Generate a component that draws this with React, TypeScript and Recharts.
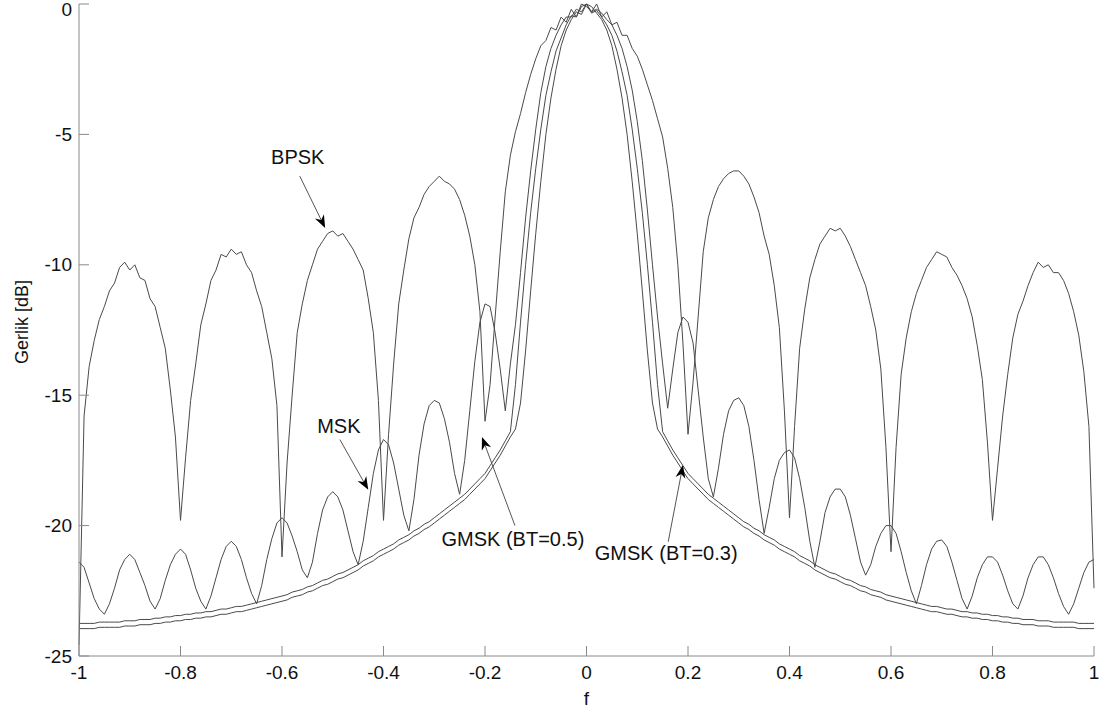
import React from 'react';
import { LineChart, Line, XAxis, YAxis, ReferenceLine, ReferenceDot } from 'recharts';

// frequency grid f = -1.00 ... 1.00 (step 0.01)
const freq: number[] = Array.from({ length: 201 }, (_, i) => (i - 100) / 100);

const bpsk: number[] = [
  -24.6, -15.8, -13.9, -12.9, -12.1, -11.6, -11.0, -10.7, -10.1, -9.9,
  -10.2, -10.0, -10.5, -10.6, -11.3, -11.6, -12.4, -13.2, -14.8, -16.6,
  -19.8, -17.4, -15.2, -13.8, -12.3, -11.5, -10.6, -10.2, -9.6, -9.7,
  -9.4, -9.6, -9.5, -10.0, -10.3, -11.0, -11.6, -12.6, -13.6, -15.4,
  -21.2, -17.6, -15.0, -12.6, -11.5, -10.6, -10.0, -9.4, -9.1, -8.8,
  -8.7, -8.9, -8.8, -9.1, -9.4, -9.8, -10.2, -11.3, -12.6, -15.2,
  -19.8, -16.5, -13.8, -11.5, -10.2, -9.0, -8.2, -7.8, -7.3, -7.0,
  -6.8, -6.6, -6.8, -6.9, -7.1, -7.5, -8.1, -8.9, -10.0, -11.8,
  -16.0, -14.6, -12.0, -9.5, -7.2, -5.8, -4.9, -4.2, -3.4, -2.7,
  -2.1, -1.6, -1.4, -0.9, -1.0, -0.5, -0.7, -0.2, -0.5, 0,
  -0.1, -0.3, 0, -0.5, -0.3, -0.8, -0.7, -1.2, -1.2, -1.7,
  -2.0, -2.5, -3.1, -3.7, -4.4, -5.1, -6.3, -7.8, -10.0, -13.0,
  -16.5, -14.5, -12.0, -9.5, -8.2, -7.5, -7.0, -6.7, -6.5, -6.4,
  -6.4, -6.6, -6.9, -7.4, -8.0, -8.9, -9.6, -10.8, -12.4, -15.6,
  -19.7, -16.2, -13.2, -11.7, -10.5, -9.8, -9.2, -8.9, -8.6, -8.7,
  -8.6, -8.9, -9.3, -9.8, -10.3, -10.8, -11.6, -12.5, -14.0, -17.0,
  -21.0, -17.0, -14.2, -12.8, -11.8, -11.1, -10.6, -10.1, -9.8, -9.5,
  -9.6, -9.7, -10.1, -10.4, -10.8, -11.3, -12.0, -13.1, -14.4, -16.8,
  -19.8, -17.8, -15.8, -14.2, -12.8, -11.9, -11.4, -10.8, -10.3, -9.9,
  -10.1, -10.0, -10.3, -10.3, -10.6, -11.1, -11.8, -12.7, -14.1, -16.2,
  -22.4,
];

const msk: number[] = [
  -21.4, -21.6, -22.2, -22.8, -23.2, -23.4, -23.0, -22.4, -21.7, -21.3,
  -21.1, -21.3, -21.8, -22.3, -22.9, -23.2, -22.8, -22.1, -21.5, -21.1,
  -20.9, -21.1, -21.7, -22.4, -22.9, -23.2, -22.7, -22.0, -21.3, -20.8,
  -20.6, -20.8, -21.3, -22.0, -22.6, -23.0, -22.3, -21.3, -20.5, -19.9,
  -19.7, -19.9, -20.4, -21.0, -21.7, -22.0, -21.4, -20.3, -19.4, -18.9,
  -18.7, -18.9, -19.4, -20.2, -21.0, -21.5, -20.6, -19.3, -18.0, -17.1,
  -16.7, -16.9, -17.6, -18.6, -19.6, -20.2, -19.0, -17.3, -16.1, -15.4,
  -15.2, -15.3, -15.9, -16.8, -18.0, -18.8, -17.5, -15.6, -13.7, -12.2,
  -11.5, -11.6, -12.6, -14.0, -15.6, -13.8, -12.3, -10.3, -8.2, -6.4,
  -4.8, -3.4, -2.4, -1.7, -1.2, -0.8, -0.5, -0.5, -0.2, -0.3,
  0, -0.3, -0.2, -0.35, -0.6, -0.8, -1.2, -1.7, -2.4, -3.3,
  -4.5, -6.0, -7.9, -10.0, -12.0, -13.8, -15.5, -14.0, -12.6, -12.0,
  -12.2, -13.0, -14.8, -16.6, -18.2, -18.9, -17.8, -16.5, -15.6, -15.2,
  -15.1, -15.4, -16.2, -17.5, -19.0, -20.3, -19.3, -18.2, -17.5, -17.2,
  -17.1, -17.4, -18.2, -19.3, -20.6, -21.6, -20.6, -19.5, -18.9, -18.6,
  -18.6, -18.9, -19.6, -20.5, -21.4, -21.9, -21.5, -20.8, -20.3, -20.0,
  -20.0, -20.3, -21.0, -21.8, -22.5, -23.0, -22.3, -21.5, -20.9, -20.6,
  -20.55, -20.8, -21.4, -22.1, -22.8, -23.2, -22.7, -22.0, -21.5, -21.2,
  -21.2, -21.4, -21.9, -22.5, -23.0, -23.2, -22.7, -22.0, -21.5, -21.2,
  -21.2, -21.5, -22.0, -22.6, -23.1, -23.4, -23.0, -22.4, -21.8, -21.4,
  -21.3,
];

const gmsk05: number[] = [
  -23.75, -23.75, -23.75, -23.75, -23.7, -23.7, -23.7, -23.7, -23.7, -23.65,
  -23.65, -23.65, -23.6, -23.6, -23.6, -23.55, -23.55, -23.5, -23.5, -23.45,
  -23.45, -23.4, -23.4, -23.35, -23.35, -23.3, -23.3, -23.25, -23.2, -23.2,
  -23.15, -23.1, -23.1, -23.05, -23.0, -22.95, -22.9, -22.85, -22.8, -22.75,
  -22.7, -22.65, -22.55, -22.5, -22.45, -22.35, -22.3, -22.2, -22.1, -22.05,
  -21.95, -21.85, -21.8, -21.7, -21.6, -21.5, -21.35, -21.25, -21.15, -21.0,
  -20.9, -20.8, -20.7, -20.55, -20.45, -20.35, -20.2, -20.1, -19.95, -19.85,
  -19.7, -19.55, -19.4, -19.25, -19.1, -18.95, -18.8, -18.6, -18.4, -18.2,
  -18.0, -17.7, -17.4, -17.1, -16.75, -16.4, -14.6, -12.2, -10.0, -8.0,
  -6.3, -4.8, -3.5, -2.6, -1.8, -1.3, -0.8, -0.45, -0.5, -0.1,
  0, -0.35, -0.25, -0.5, -0.8, -1.2, -1.8, -2.6, -3.5, -4.8,
  -6.3, -8.0, -10.0, -12.2, -14.6, -16.4, -16.75, -17.1, -17.4, -17.7,
  -18.0, -18.2, -18.4, -18.6, -18.8, -18.95, -19.1, -19.25, -19.4, -19.55,
  -19.7, -19.85, -19.95, -20.1, -20.2, -20.35, -20.45, -20.55, -20.7, -20.8,
  -20.9, -21.0, -21.15, -21.25, -21.35, -21.5, -21.6, -21.7, -21.8, -21.85,
  -21.95, -22.05, -22.1, -22.2, -22.3, -22.35, -22.45, -22.5, -22.55, -22.65,
  -22.7, -22.75, -22.8, -22.85, -22.9, -22.95, -23.0, -23.05, -23.1, -23.1,
  -23.15, -23.2, -23.2, -23.25, -23.3, -23.3, -23.35, -23.35, -23.4, -23.4,
  -23.45, -23.45, -23.5, -23.5, -23.55, -23.55, -23.6, -23.6, -23.6, -23.65,
  -23.65, -23.65, -23.7, -23.7, -23.7, -23.7, -23.7, -23.75, -23.75, -23.75,
  -23.75,
];

const gmsk03: number[] = [
  -23.95, -23.95, -23.95, -23.95, -23.9, -23.9, -23.9, -23.9, -23.9, -23.85,
  -23.85, -23.85, -23.8, -23.8, -23.8, -23.75, -23.75, -23.7, -23.7, -23.65,
  -23.65, -23.6, -23.6, -23.55, -23.55, -23.5, -23.5, -23.45, -23.4, -23.4,
  -23.35, -23.3, -23.3, -23.25, -23.2, -23.15, -23.1, -23.05, -23.0, -22.95,
  -22.9, -22.85, -22.75, -22.7, -22.65, -22.55, -22.5, -22.4, -22.3, -22.25,
  -22.15, -22.05, -22.0, -21.9, -21.8, -21.7, -21.55, -21.45, -21.35, -21.2,
  -21.1, -21.0, -20.9, -20.75, -20.65, -20.55, -20.4, -20.3, -20.15, -20.05,
  -19.9, -19.75, -19.6, -19.45, -19.3, -19.15, -19.0, -18.8, -18.6, -18.4,
  -18.2, -17.9, -17.6, -17.3, -16.95, -16.6, -16.3, -15.3, -13.3, -11.0,
  -8.8, -6.8, -5.0, -3.6, -2.5, -1.6, -1.0, -0.6, -0.3, -0.4,
  0, -0.1, -0.35, -0.6, -1.0, -1.6, -2.5, -3.6, -5.0, -6.8,
  -8.8, -11.0, -13.3, -15.3, -16.3, -16.6, -16.95, -17.3, -17.6, -17.9,
  -18.2, -18.4, -18.6, -18.8, -19.0, -19.15, -19.3, -19.45, -19.6, -19.75,
  -19.9, -20.05, -20.15, -20.3, -20.4, -20.55, -20.65, -20.75, -20.9, -21.0,
  -21.1, -21.2, -21.35, -21.45, -21.55, -21.7, -21.8, -21.9, -22.0, -22.05,
  -22.15, -22.25, -22.3, -22.4, -22.5, -22.55, -22.65, -22.7, -22.75, -22.85,
  -22.9, -22.95, -23.0, -23.05, -23.1, -23.15, -23.2, -23.25, -23.3, -23.3,
  -23.35, -23.4, -23.4, -23.45, -23.5, -23.5, -23.55, -23.55, -23.6, -23.6,
  -23.65, -23.65, -23.7, -23.7, -23.75, -23.75, -23.8, -23.8, -23.8, -23.85,
  -23.85, -23.85, -23.9, -23.9, -23.9, -23.9, -23.9, -23.95, -23.95, -23.95,
  -23.95,
];

const xTicks = [-1, -0.8, -0.6, -0.4, -0.2, 0, 0.2, 0.4, 0.6, 0.8, 1];
const yTicks = [-25, -20, -15, -10, -5, 0];

// annotations: label text, label centre, arrow start, arrow tip (data units)
const noteText = ['BPSK', 'MSK', 'GMSK (BT=0.5)', 'GMSK (BT=0.3)'];
const noteF = [-0.569, -0.488, -0.145, 0.157];
const noteDb = [-5.87, -16.18, -20.5, -21.05];
const arrowFromF = [-0.565, -0.486, -0.141, 0.161];
const arrowFromDb = [-6.6, -16.7, -20.0, -20.62];
const arrowToF = [-0.515, -0.43, -0.206, 0.19];
const arrowToDb = [-8.59, -18.63, -16.6, -17.68];

const data = freq.map((f, i) => ({ f, bpsk: bpsk[i], msk: msk[i], g5: gmsk05[i], g3: gmsk03[i] }));

const FONT = "'Liberation Sans', Arial, Helvetica, sans-serif";
const AXIS = '#8a8a8a';
const CURVE = '#4a4a4a';

function ArrowShape(props: any) {
  const { x1, y1, x2, y2 } = props;
  const dx = x2 - x1;
  const dy = y2 - y1;
  const len = Math.hypot(dx, dy) || 1;
  const ux = dx / len;
  const uy = dy / len;
  const px = -uy;
  const py = ux;
  const L = 13;
  const W = 5;
  const N = 9;
  const bx = x2 - ux * L;
  const by = y2 - uy * L;
  const nx = x2 - ux * N;
  const ny = y2 - uy * N;
  const pts = `${x2},${y2} ${bx + px * W},${by + py * W} ${nx},${ny} ${bx - px * W},${by - py * W}`;
  return (
    <g>
      <line x1={x1} y1={y1} x2={nx} y2={ny} stroke="#555" strokeWidth={1} />
      <polygon points={pts} fill="#000" />
    </g>
  );
}

function makeText(label: string) {
  return (p: any) => (
    <text
      x={p.cx}
      y={p.cy}
      textAnchor="middle"
      dominantBaseline="central"
      fontFamily={FONT}
      fontSize={20}
      fill="#111"
    >
      {label}
    </text>
  );
}

const YTitle = (p: any) => {
  const vb = p.viewBox || { x: 0, y: 4, width: 79, height: 652 };
  const cx = vb.x + 22;
  const cy = vb.y + vb.height / 2 - 8;
  return (
    <text
      x={cx}
      y={cy}
      transform={`rotate(-90, ${cx}, ${cy})`}
      textAnchor="middle"
      dominantBaseline="central"
      fontFamily={FONT}
      fontSize={18}
      fill="#111"
    >
      Gerlik [dB]
    </text>
  );
};

const XTitle = (p: any) => {
  const vb = p.viewBox || { x: 79, y: 656, width: 1015, height: 59 };
  const cx = vb.x + vb.width / 2;
  const cy = vb.y + 42;
  return (
    <text x={cx} y={cy} textAnchor="middle" dominantBaseline="central" fontFamily={FONT} fontSize={19} fill="#111">
      f
    </text>
  );
};

const YTick = (p: any) => {
  const v = p.payload ? p.payload.value : 0;
  const shift = v === 0 ? 5 : 0;
  return (
    <text
      x={p.x}
      y={p.y + shift}
      textAnchor="end"
      dominantBaseline="central"
      fontFamily={FONT}
      fontSize={19}
      fill="#111"
    >
      {String(v)}
    </text>
  );
};

export default function App() {
  const tickStyle = { fill: '#111', fontSize: 19, fontFamily: FONT };
  return (
    <div style={{ position: 'absolute', left: 0, top: 0, background: '#fff' }}>
      <LineChart width={1105} height={715} data={data} margin={{ top: 4, right: 11, bottom: 0, left: 0 }}>
        <XAxis
          dataKey="f"
          type="number"
          domain={[-1, 1]}
          ticks={xTicks}
          interval={0}
          height={59}
          tickSize={-10}
          tickMargin={20}
          tick={tickStyle}
          axisLine={{ stroke: AXIS }}
          tickLine={{ stroke: AXIS }}
          label={{ content: XTitle }}
        />
        <XAxis
          xAxisId="top"
          orientation="top"
          dataKey="f"
          type="number"
          domain={[-1, 1]}
          ticks={xTicks}
          interval={0}
          height={0}
          tickSize={-10}
          tick={false}
          axisLine={{ stroke: AXIS }}
          tickLine={{ stroke: AXIS }}
        />
        <YAxis
          type="number"
          domain={[-25, 0]}
          ticks={yTicks}
          interval={0}
          width={79}
          tickSize={-10}
          tickMargin={17}
          tick={YTick}
          axisLine={{ stroke: AXIS }}
          tickLine={{ stroke: AXIS }}
          label={{ content: YTitle }}
        />
        <YAxis
          yAxisId="right"
          orientation="right"
          type="number"
          domain={[-25, 0]}
          ticks={yTicks}
          interval={0}
          width={0}
          tickSize={-10}
          tick={false}
          axisLine={{ stroke: AXIS }}
          tickLine={{ stroke: AXIS }}
        />
        <Line type="linear" dataKey="bpsk" stroke={CURVE} strokeWidth={1} dot={false} activeDot={false} isAnimationActive={false} />
        <Line type="linear" dataKey="msk" stroke={CURVE} strokeWidth={1} dot={false} activeDot={false} isAnimationActive={false} />
        <Line type="linear" dataKey="g5" stroke={CURVE} strokeWidth={1} dot={false} activeDot={false} isAnimationActive={false} />
        <Line type="linear" dataKey="g3" stroke={CURVE} strokeWidth={1} dot={false} activeDot={false} isAnimationActive={false} />
        {noteText.map((t, i) => (
          <ReferenceLine
            key={'a' + i}
            segment={[
              { x: arrowFromF[i], y: arrowFromDb[i] },
              { x: arrowToF[i], y: arrowToDb[i] },
            ]}
            shape={ArrowShape}
            ifOverflow="visible"
          />
        ))}
        {noteText.map((t, i) => (
          <ReferenceDot key={'t' + i} x={noteF[i]} y={noteDb[i]} r={1} shape={makeText(t)} ifOverflow="visible" />
        ))}
      </LineChart>
    </div>
  );
}
